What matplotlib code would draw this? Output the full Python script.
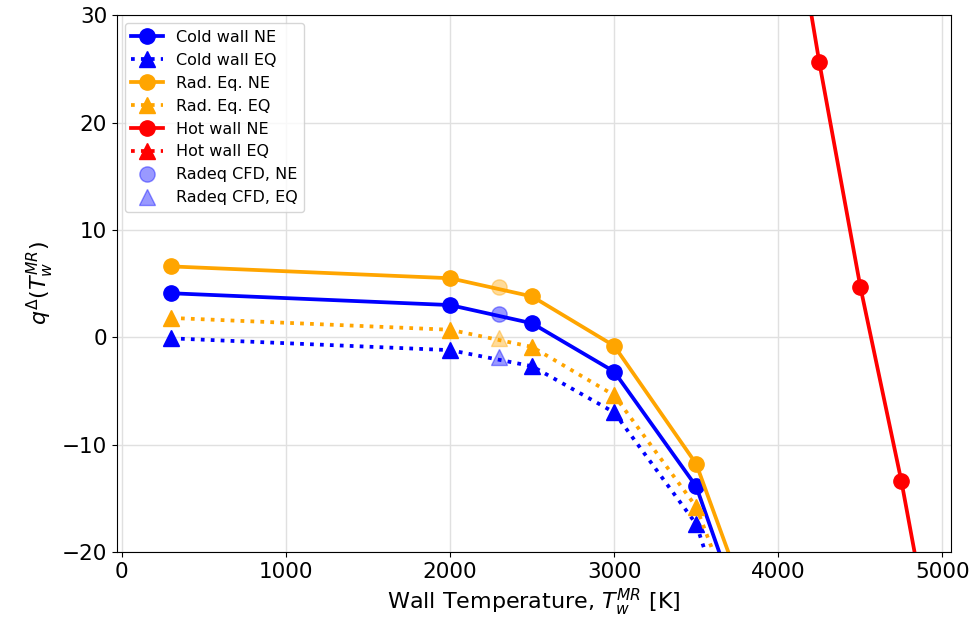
import numpy as np
import matplotlib
matplotlib.use("Agg")
import matplotlib.pyplot as plt

# wall temperatures [K]
T_cold = [300, 2000, 2500, 3000, 3500, 4000]
T_hot = [4000, 4250, 4500, 4750, 5000]

# q_delta values
cold_ne = [4.1, 3.0, 1.3, -3.2, -13.9, -35.7]
cold_eq = [-0.1, -1.2, -2.7, -7.0, -17.4, -41.0]
radeq_ne = [6.6, 5.5, 3.8, -0.8, -11.8, -32.8]
radeq_eq = [1.8, 0.7, -0.9, -5.4, -15.8, -36.0]
hot_ne = [48.5, 25.6, 4.7, -13.4, -34.0]
hot_eq = [np.nan, np.nan, np.nan, np.nan, np.nan]

# CFD points
T_cfd = [2300]
cfd_cold_ne = [2.2]
cfd_cold_eq = [-1.8]
cfd_radeq_ne = [4.7]
cfd_radeq_eq = [-0.1]

plt.rcParams['font.size'] = 15.5
fig, ax = plt.subplots(figsize=(9.74, 6.33), dpi=100)
fig.subplots_adjust(left=0.12, right=0.976, top=0.976, bottom=0.128)

lw = 2.7
ms = 11
ax.plot(T_cold, cold_ne, '-o', color='blue', lw=lw, ms=ms, label='Cold wall NE')
ax.plot(T_cold, cold_eq, ':^', color='blue', lw=lw, ms=ms, label='Cold wall EQ')
ax.plot(T_cold, radeq_ne, '-o', color='orange', lw=lw, ms=ms, label='Rad. Eq. NE')
ax.plot(T_cold, radeq_eq, ':^', color='orange', lw=lw, ms=ms, label='Rad. Eq. EQ')
ax.plot(T_hot, hot_ne, '-o', color='red', lw=lw, ms=ms, label='Hot wall NE')
ax.plot(T_hot, hot_eq, ':^', color='red', lw=lw, ms=ms, label='Hot wall EQ')

ax.plot(T_cfd, cfd_cold_ne, 'o', color='blue', alpha=0.4, ms=ms, label='Radeq CFD, NE')
ax.plot(T_cfd, cfd_cold_eq, '^', color='blue', alpha=0.4, ms=ms, label='Radeq CFD, EQ')
ax.plot(T_cfd, cfd_radeq_ne, 'o', color='orange', alpha=0.4, ms=ms)
ax.plot(T_cfd, cfd_radeq_eq, '^', color='orange', alpha=0.4, ms=ms)

ax.set_xlim(-30, 5050)
ax.set_ylim(-20, 30)
ax.grid(True, color='#e0e0e0', lw=1)
ax.set_xlabel(r'Wall Temperature, $T_w^{MR}$ [K]', fontsize=16)
ax.set_ylabel(r'$q^{\Delta}(T_w^{MR})$', fontsize=16)
ax.legend(loc='upper left', fontsize=11.5)

fig.savefig('out.png', dpi=100)
